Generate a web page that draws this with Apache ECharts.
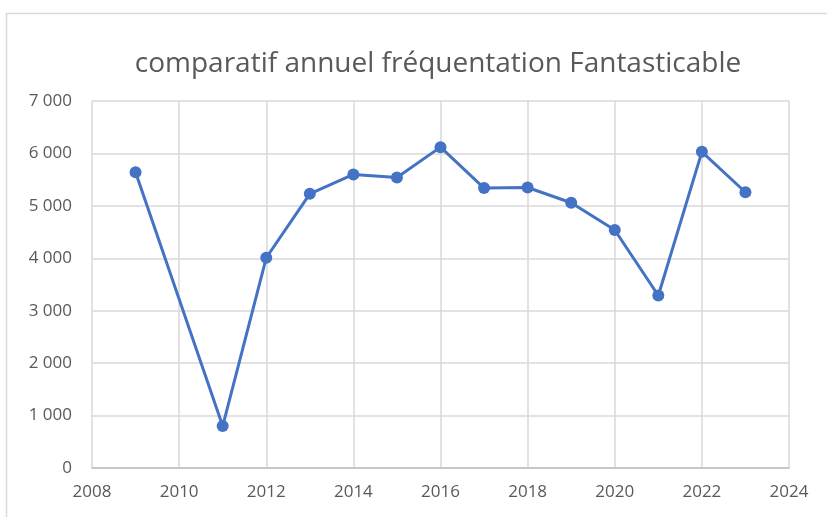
<!DOCTYPE html>
<html>
<head>
<meta charset="utf-8">
<script src="https://cdn.jsdelivr.net/npm/echarts@6/dist/echarts.min.js"></script>
<style>
  html, body { margin: 0; padding: 0; background: #fff; }
  #chart { width: 827px; height: 517px; }
</style>
</head>
<body>
<div id="chart"></div>
<script>
// years and visitor counts (2010 has no value)
const years = [2009, 2011, 2012, 2013, 2014, 2015, 2016, 2017, 2018, 2019, 2020, 2021, 2022, 2023]
const visits = [5640, 800, 4010, 5230, 5600, 5540, 6120, 5340, 5350, 5060, 4540, 3290, 6030, 5260]
const title = 'comparatif annuel fréquentation Fantasticable'

const fmt = (v) => String(v).replace(/\B(?=(\d{3})+(?!\d))/g, ' ')

const chart = echarts.init(document.getElementById('chart'))
chart.setOption({
  animation: false,
  title: {
    text: title,
    left: 433,
    textAlign: 'center',
    top: 45,
    textStyle: {
      fontFamily: 'Open Sans',
      fontSize: 28,
      fontWeight: 'normal',
      color: '#595959',
    },
  },
  graphic: [
    {
      type: 'rect',
      shape: { x: 6.5, y: 13.5, width: 840, height: 520 },
      style: { fill: 'none', stroke: '#d9d9d9', lineWidth: 1.5 },
      silent: true,
    },
  ],
  grid: {
    left: 92,
    right: 38,
    top: 101,
    bottom: 49,
  },
  xAxis: {
    type: 'value',
    min: 2008,
    max: 2024,
    interval: 2,
    axisLine: { show: true, onZero: false, lineStyle: { color: '#bfbfbf', width: 1.5 } },
    axisTick: { show: false },
    axisLabel: {
      color: '#595959',
      fontFamily: 'Open Sans',
      fontSize: 17,
      margin: 16,
      formatter: (v) => String(v),
    },
    splitLine: { show: true, lineStyle: { color: '#d9d9d9', width: 1.5 } },
  },
  yAxis: {
    type: 'value',
    min: 0,
    max: 7000,
    interval: 1000,
    axisLine: { show: false },
    axisTick: { show: false },
    axisLabel: {
      color: '#595959',
      fontFamily: 'Open Sans',
      fontSize: 17,
      margin: 20,
      formatter: fmt,
    },
    splitLine: { show: true, lineStyle: { color: '#d9d9d9', width: 1.5 } },
  },
  series: [
    {
      type: 'line',
      data: years.map((y, i) => [y, visits[i]]),
      symbol: 'circle',
      symbolSize: 12,
      lineStyle: { color: '#4472c4', width: 3 },
      itemStyle: { color: '#4472c4' },
    },
  ],
})
</script>
</body>
</html>
